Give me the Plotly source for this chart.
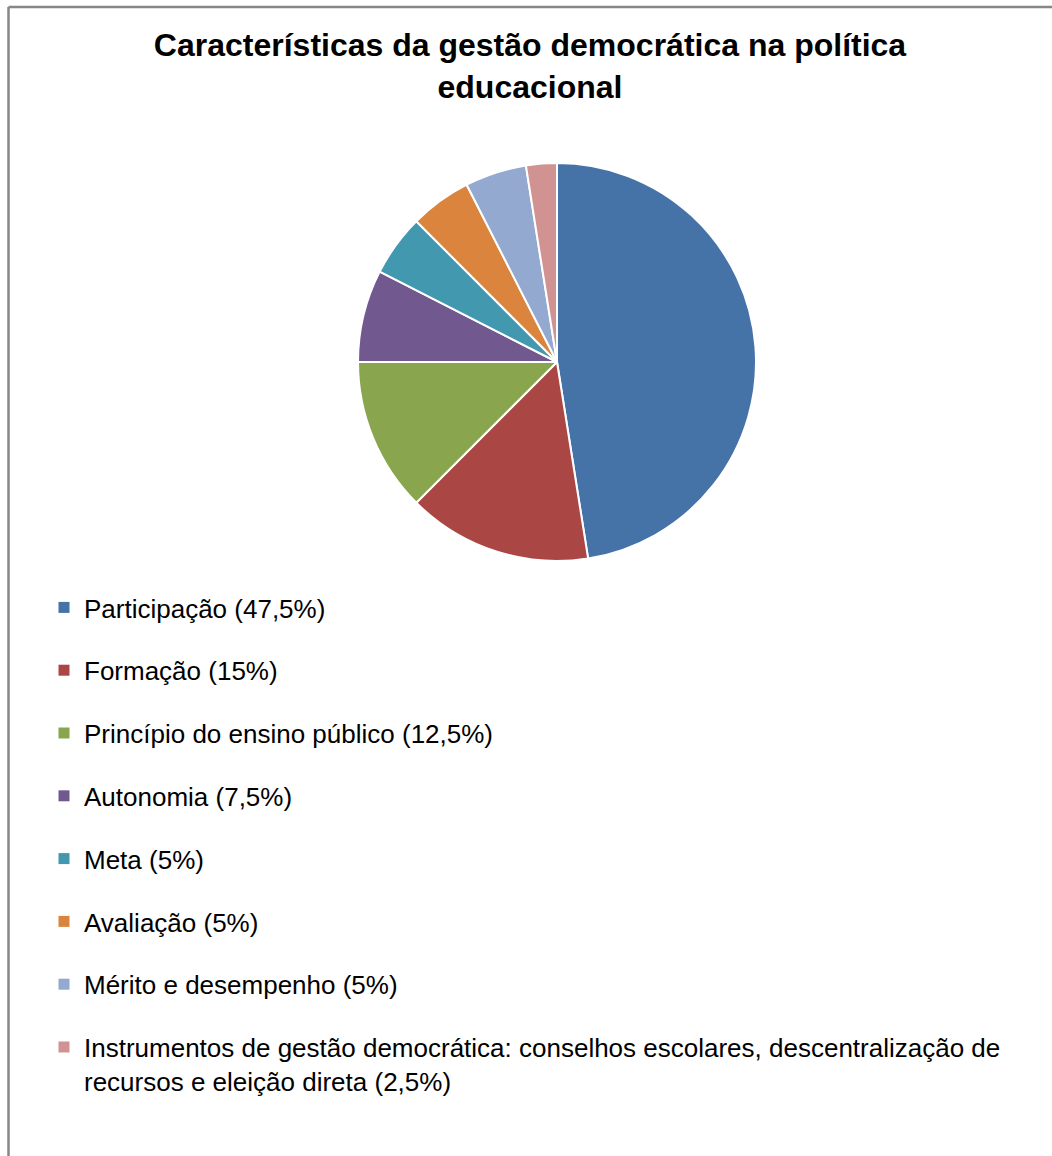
import plotly.graph_objects as go

labels = [
    "Participação (47,5%)",
    "Formação (15%)",
    "Princípio do ensino público (12,5%)",
    "Autonomia (7,5%)",
    "Meta (5%)",
    "Avaliação (5%)",
    "Mérito e desempenho (5%)",
    "Instrumentos de gestão democrática: conselhos escolares, descentralização de<br>recursos e eleição direta (2,5%)",
]
values = [47.5, 15, 12.5, 7.5, 5, 5, 5, 2.5]
colors = ["#4572A7", "#AA4643", "#89A54E", "#71588F", "#4198AF", "#DB843D", "#93A9CF", "#D19392"]

W, H = 1052, 1156
FONT = "Liberation Sans, Arial, sans-serif"

fig = go.Figure()

# pie
cx, cy, r = 557, 362, 199
fig.add_trace(go.Pie(
    labels=labels, values=values, sort=False, direction="clockwise", rotation=0,
    marker=dict(colors=colors, line=dict(color="white", width=2)),
    textinfo="none", hoverinfo="label+percent", showlegend=False,
    domain=dict(x=[(cx - r) / W, (cx + r) / W], y=[1 - (cy + r) / H, 1 - (cy - r) / H]),
))

# legend entries
for i, (lab, col) in enumerate(zip(labels, colors)):
    fig.add_trace(go.Scatter(
        x=[None], y=[None], mode="markers", name=lab, legendgroup=f"g{i}",
        marker=dict(symbol="square", size=11, color=col),
        hoverinfo="skip",
    ))

fig.update_layout(
    width=W, height=H,
    margin=dict(l=0, r=0, t=0, b=0),
    paper_bgcolor="white", plot_bgcolor="white",
    font=dict(family=FONT, color="#000000"),
    title=dict(
        text="<b>Características da gestão democrática na política<br>educacional</b>",
        x=530 / W, xanchor="center", xref="container",
        y=1 - 56 / H, yanchor="top", yref="container",
        font=dict(size=32, family=FONT, color="#000000"),
    ),
    xaxis=dict(visible=False, domain=[0, 0.01]),
    yaxis=dict(visible=False, domain=[0, 0.01]),
    showlegend=True,
    legend=dict(
        x=44 / W, xanchor="left", y=1 - 584 / H, yanchor="top",
        font=dict(size=26, family=FONT, color="#000000"),
        tracegroupgap=26, valign="top", itemclick=False, itemdoubleclick=False,
        bgcolor="rgba(0,0,0,0)",
    ),
    shapes=[
        dict(type="line", xref="paper", yref="paper", x0=8.5 / W, x1=8.5 / W, y0=-0.05, y1=1 - 7 / H,
             line=dict(color="#878787", width=2.5)),
        dict(type="line", xref="paper", yref="paper", x0=8.5 / W, x1=1.05, y0=1 - 7 / H, y1=1 - 7 / H,
             line=dict(color="#878787", width=2.5)),
    ],
)

fig.write_html("out.html")
